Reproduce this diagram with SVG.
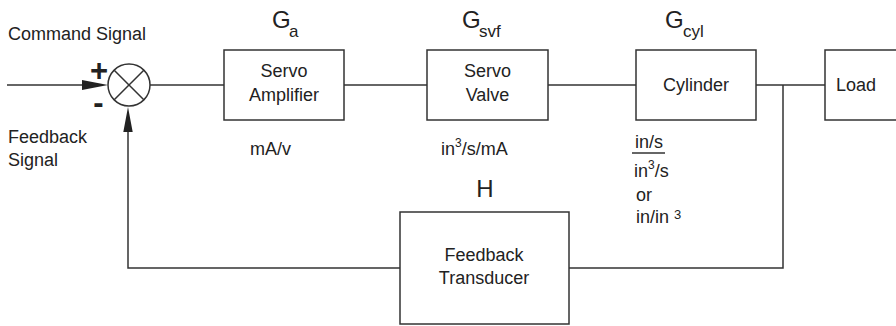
<svg xmlns="http://www.w3.org/2000/svg" width="896" height="326" viewBox="0 0 896 326">
<style>
text{font-family:"Liberation Sans",Arial,sans-serif;fill:#222;font-size:18px}
.c{text-anchor:middle}
.g{font-size:24px}
.sub{font-size:17px}
.sign{font-size:31px;font-weight:bold}
.box{fill:none;stroke:#333;stroke-width:1.5}
.ln{fill:none;stroke:#333;stroke-width:1.5}
.ar{fill:#222;stroke:none}
</style>
<rect width="896" height="326" fill="#fff"/>
<g id="connectors">
<line class="ln" x1="7" y1="85" x2="84" y2="85"/>
<polygon class="ar" points="82,80 108,85 82,90"/>
<line class="ln" x1="150" y1="85" x2="224" y2="85"/>
<line class="ln" x1="344" y1="85" x2="427" y2="85"/>
<line class="ln" x1="548" y1="85" x2="636" y2="85"/>
<line class="ln" x1="756" y1="85" x2="825" y2="85"/>
<polyline class="ln" points="783,85 783,268 569,268"/>
<polyline class="ln" points="400,268 128,268 128,129"/>
<polygon class="ar" points="123.3,132 128,107 132.7,132"/>
</g>
<g id="sum">
<circle cx="129" cy="85" r="21" fill="#fff" stroke="#333" stroke-width="1.5"/>
<line class="ln" x1="114.2" y1="70.2" x2="143.8" y2="99.8"/>
<line class="ln" x1="143.8" y1="70.2" x2="114.2" y2="99.8"/>
<text class="c sign" x="99" y="81">+</text>
<text class="c sign" x="98.5" y="113">-</text>
</g>
<g id="labels-left">
<text x="8" y="40">Command Signal</text>
<text x="8" y="143">Feedback</text>
<text x="8" y="166">Signal</text>
</g>
<g id="servo-amplifier">
<rect class="box" x="224" y="50" width="120" height="70"/>
<text class="c" x="284" y="77">Servo</text>
<text class="c" x="284" y="101">Amplifier</text>
<text class="g" x="272" y="28">G</text><text class="sub" x="289" y="37">a</text>
<text x="250" y="155">mA/v</text>
</g>
<g id="servo-valve">
<rect class="box" x="427" y="50" width="121" height="70"/>
<text class="c" x="487.5" y="77">Servo</text>
<text class="c" x="487.5" y="101">Valve</text>
<text class="g" x="462" y="28">G</text><text class="sub" x="479" y="37">svf</text>
<text x="441" y="155">in<tspan font-size="12" dy="-8">3</tspan><tspan dy="8">/s/mA</tspan></text>
</g>
<g id="cylinder">
<rect class="box" x="636" y="50" width="120" height="70"/>
<text class="c" x="696" y="91">Cylinder</text>
<text class="g" x="665" y="28">G</text><text class="sub" x="683" y="37">cyl</text>
<text x="635" y="148">in/s</text>
<line class="ln" x1="632" y1="153" x2="665" y2="153" stroke-width="1.3"/>
<text x="634" y="177">in<tspan font-size="12" dy="-8">3</tspan><tspan dy="8">/s</tspan></text>
<text x="636" y="201">or</text>
<text x="636" y="223">in/in <tspan font-size="13" dy="-4">3</tspan></text>
</g>
<g id="load">
<rect class="box" x="825" y="50" width="80" height="70"/>
<text x="836" y="91">Load</text>
</g>
<g id="feedback-transducer">
<rect class="box" x="400" y="212" width="169" height="112"/>
<text class="c" x="484" y="261">Feedback</text>
<text class="c" x="484" y="284">Transducer</text>
<text class="g c" x="485" y="197">H</text>
</g>
</svg>
